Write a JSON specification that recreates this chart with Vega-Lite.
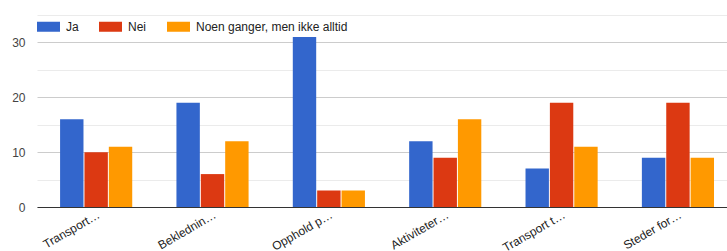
{
  "$schema": "https://vega.github.io/schema/vega-lite/v6.json",
  "width": 690,
  "height": 192,
  "autosize": {"type": "none"},
  "padding": {"left": 37, "top": 15, "right": 0, "bottom": 44},
  "background": "white",
  "config": {
    "view": {"stroke": null},
    "font": "Liberation Sans"
  },
  "data": {
    "values": [
      {"kategori": "Transport…", "svar": "Ja", "antall": 16},
      {"kategori": "Transport…", "svar": "Nei", "antall": 10},
      {"kategori": "Transport…", "svar": "Noen ganger, men ikke alltid", "antall": 11},
      {"kategori": "Beklednin…", "svar": "Ja", "antall": 19},
      {"kategori": "Beklednin…", "svar": "Nei", "antall": 6},
      {"kategori": "Beklednin…", "svar": "Noen ganger, men ikke alltid", "antall": 12},
      {"kategori": "Opphold p…", "svar": "Ja", "antall": 31},
      {"kategori": "Opphold p…", "svar": "Nei", "antall": 3},
      {"kategori": "Opphold p…", "svar": "Noen ganger, men ikke alltid", "antall": 3},
      {"kategori": "Aktiviteter…", "svar": "Ja", "antall": 12},
      {"kategori": "Aktiviteter…", "svar": "Nei", "antall": 9},
      {"kategori": "Aktiviteter…", "svar": "Noen ganger, men ikke alltid", "antall": 16},
      {"kategori": "Transport t…", "svar": "Ja", "antall": 7},
      {"kategori": "Transport t…", "svar": "Nei", "antall": 19},
      {"kategori": "Transport t…", "svar": "Noen ganger, men ikke alltid", "antall": 11},
      {"kategori": "Steder for…", "svar": "Ja", "antall": 9},
      {"kategori": "Steder for…", "svar": "Nei", "antall": 19},
      {"kategori": "Steder for…", "svar": "Noen ganger, men ikke alltid", "antall": 9}
    ]
  },
  "mark": {"type": "bar"},
  "encoding": {
    "x": {
      "field": "kategori",
      "type": "nominal",
      "sort": null,
      "title": null,
      "scale": {"paddingInner": 0.38, "paddingOuter": 0.155, "align": 0.64},
      "axis": {
        "labelAngle": -30,
        "labelAlign": "right",
        "labelBaseline": "top",
        "labelFontSize": 12,
        "labelColor": "#222222",
        "labelPadding": 2,
        "labelBound": false,
        "labelOverlap": false,
        "ticks": false,
        "domainColor": "#333333",
        "domainWidth": 1,
        "grid": false
      }
    },
    "xOffset": {
      "field": "svar",
      "type": "nominal",
      "sort": ["Ja", "Nei", "Noen ganger, men ikke alltid"],
      "scale": {"paddingInner": 0.04, "paddingOuter": 0}
    },
    "y": {
      "field": "antall",
      "type": "quantitative",
      "title": null,
      "scale": {"domain": [0, 35], "nice": false},
      "axis": {
        "values": [0, 5, 10, 15, 20, 25, 30, 35],
        "labelExpr": "datum.value % 10 === 0 ? datum.label : ''",
        "domain": false,
        "ticks": false,
        "labelPadding": 12,
        "labelFontSize": 12,
        "labelColor": "#444444",
        "gridColor": {"condition": {"test": "datum.value % 10 === 0", "value": "#cccccc"}, "value": "#ebebeb"}
      }
    },
    "color": {
      "field": "svar",
      "type": "nominal",
      "title": null,
      "scale": {
        "domain": ["Ja", "Nei", "Noen ganger, men ikke alltid"],
        "range": ["#3366cc", "#dc3912", "#ff9900"]
      },
      "legend": {
        "orient": "top-left",
        "direction": "horizontal",
        "offset": 0,
        "padding": 0,
        "symbolType": "M-1,-0.435H1V0.435H-1Z",
        "symbolSize": 529,
        "symbolStrokeWidth": 0,
        "labelFontSize": 12,
        "labelColor": "#222222",
        "labelOffset": 6,
        "columnPadding": 20
      }
    }
  }
}
